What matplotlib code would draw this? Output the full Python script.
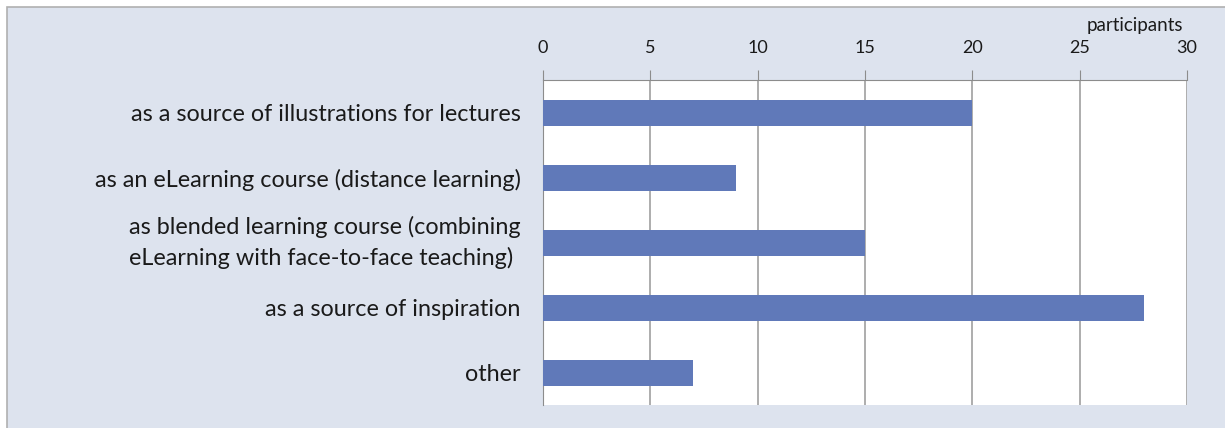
import matplotlib.pyplot as plt
from matplotlib.patches import Rectangle
from matplotlib.transforms import ScaledTranslation

categories = [
    "as a source of illustrations for lectures",
    "as an eLearning course (distance learning)",
    "as blended learning course (combining\neLearning with face-to-face teaching)",
    "as a source of inspiration",
    "other",
]
participants = [20, 9, 15, 28, 7]
xticks = [0, 5, 10, 15, 20, 25, 30]

plt.rcParams['font.family'] = ['Lato', 'DejaVu Sans']

fig = plt.figure(figsize=(12.25, 4.28), dpi=100)
fig.patch.set_facecolor('white')

# light panel behind the chart
panel = Rectangle((7 / 1225, -0.01), 1.02, 1 - 7 / 428 + 0.01,
                  transform=fig.transFigure, facecolor='#dde3ee',
                  edgecolor='#b0b0b0', linewidth=1.2, zorder=-10)
fig.patches.append(panel)

ax = fig.add_axes([543 / 1225, 1 - 405 / 428, 644 / 1225, 325 / 428])
ax.set_facecolor('white')

ypos = range(len(categories))
ax.barh(ypos, participants, height=0.4, color='#6079b9', zorder=3)

ax.set_xlim(0, 30)
ax.set_ylim(len(categories) - 0.5, -0.5)
ax.set_xticks(xticks)
ax.xaxis.tick_top()
ax.tick_params(axis='x', length=7, color='#8c8c8c', labelsize=13,
               labelcolor='#1a1a1a', pad=10)
ax.set_yticks(list(ypos))
ax.set_yticklabels(categories, fontsize=16.8, color='#1a1a1a',
                   multialignment='left', linespacing=1.5)
ax.tick_params(axis='y', length=0, pad=16)
ax.grid(axis='x', color='#a0a0a0', linewidth=1.2, zorder=0)

# two-line label sits a little higher in the original
lbl = ax.get_yticklabels()[2]
lbl.set_transform(lbl.get_transform() + ScaledTranslation(0, 5 / 72, fig.dpi_scale_trans))

for side in ['right', 'bottom']:
    ax.spines[side].set_visible(False)
ax.spines['top'].set_color('#8c8c8c')
ax.spines['left'].set_color('#8c8c8c')

fig.text(1135 / 1225, 1 - 26 / 428, 'participants', ha='center',
         va='center', fontsize=13.5, color='#1a1a1a')

fig.savefig('out.png', dpi=100)
